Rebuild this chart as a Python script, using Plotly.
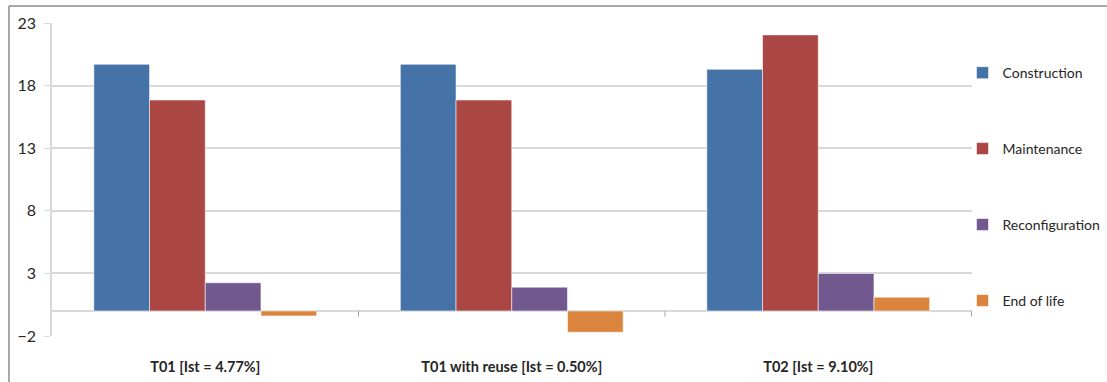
import plotly.graph_objects as go

categories = ["T01 [Ist = 4.77%]", "T01 with reuse [Ist = 0.50%]", "T02 [Ist = 9.10%]"]
series_names = ["Construction", "Maintenance", "Reconfiguration", "End of life"]
construction = [19.7, 19.7, 19.3]
maintenance = [16.85, 16.85, 22.05]
reconfiguration = [2.25, 1.9, 3.0]
end_of_life = [-0.4, -1.7, 1.1]
colors = ["#4572A7", "#AA4643", "#71588F", "#DB843D"]
y_tick_vals = [-2, 3, 8, 13, 18, 23]

values = [construction, maintenance, reconfiguration, end_of_life]

fig = go.Figure()
for name, vals, col in zip(series_names, values, colors):
    fig.add_trace(go.Bar(
        x=categories, y=vals, name=name, legendgroup=name,
        marker=dict(color=col, line=dict(color="rgba(255,255,255,0.55)", width=1)),
    ))

# category divider ticks at the zero line
shapes = []
for i in range(1, len(categories) + 1):
    shapes.append(dict(type="line", xref="x", yref="y", x0=i - 0.5, x1=i - 0.5,
                       y0=0, y1=-0.45, line=dict(color="#A6A6A6", width=1)))
# outer border (left and top)
shapes.append(dict(type="line", xref="paper", yref="paper",
                   x0=-43 / 920, x1=1.2, y0=1 + 17 / 313, y1=1 + 17 / 313,
                   line=dict(color="#8C8C8C", width=1.5)))
shapes.append(dict(type="line", xref="paper", yref="paper",
                   x0=-43 / 920, x1=-43 / 920, y0=1 + 17 / 313, y1=-0.3,
                   line=dict(color="#8C8C8C", width=1.5)))

fig.update_layout(
    width=1107, height=382,
    margin=dict(l=52, r=135, t=23, b=46, autoexpand=False),
    paper_bgcolor="white", plot_bgcolor="white",
    barmode="group", bargap=0.273, bargroupgap=0,
    font=dict(family="Lato, Open Sans, sans-serif", size=14, color="#262626"),
    showlegend=True,
    legend=dict(x=0.9897, xanchor="left", y=0.891, yanchor="top",
                tracegroupgap=54.7, font=dict(size=14, color="#262626"),
                bgcolor="rgba(0,0,0,0)"),
    shapes=shapes,
)
fig.update_yaxes(range=[-2, 23], tickvals=y_tick_vals, showgrid=True, automargin=False,
                 gridcolor="#D9D9D9", gridwidth=1.5,
                 zeroline=True, zerolinecolor="#D9D9D9", zerolinewidth=1.5,
                 showline=True, linecolor="#D9D9D9", linewidth=1.5,
                 ticks="outside", ticklen=6, tickcolor="#D9D9D9",
                 ticklabelstandoff=5,
                 tickfont=dict(size=16, color="#262626"))
fig.update_xaxes(showgrid=False, showline=False, ticks="", automargin=False,
                 ticklabelstandoff=20,
                 tickfont=dict(size=14.5, color="#262626", family="Lato, Open Sans, sans-serif", weight="bold"))

# remove the default 8px page margin so the figure fills the window exactly
fig.write_html("out.html", config={"displayModeBar": False},
               post_script="document.body.style.margin='0';document.body.style.overflow='hidden';")
